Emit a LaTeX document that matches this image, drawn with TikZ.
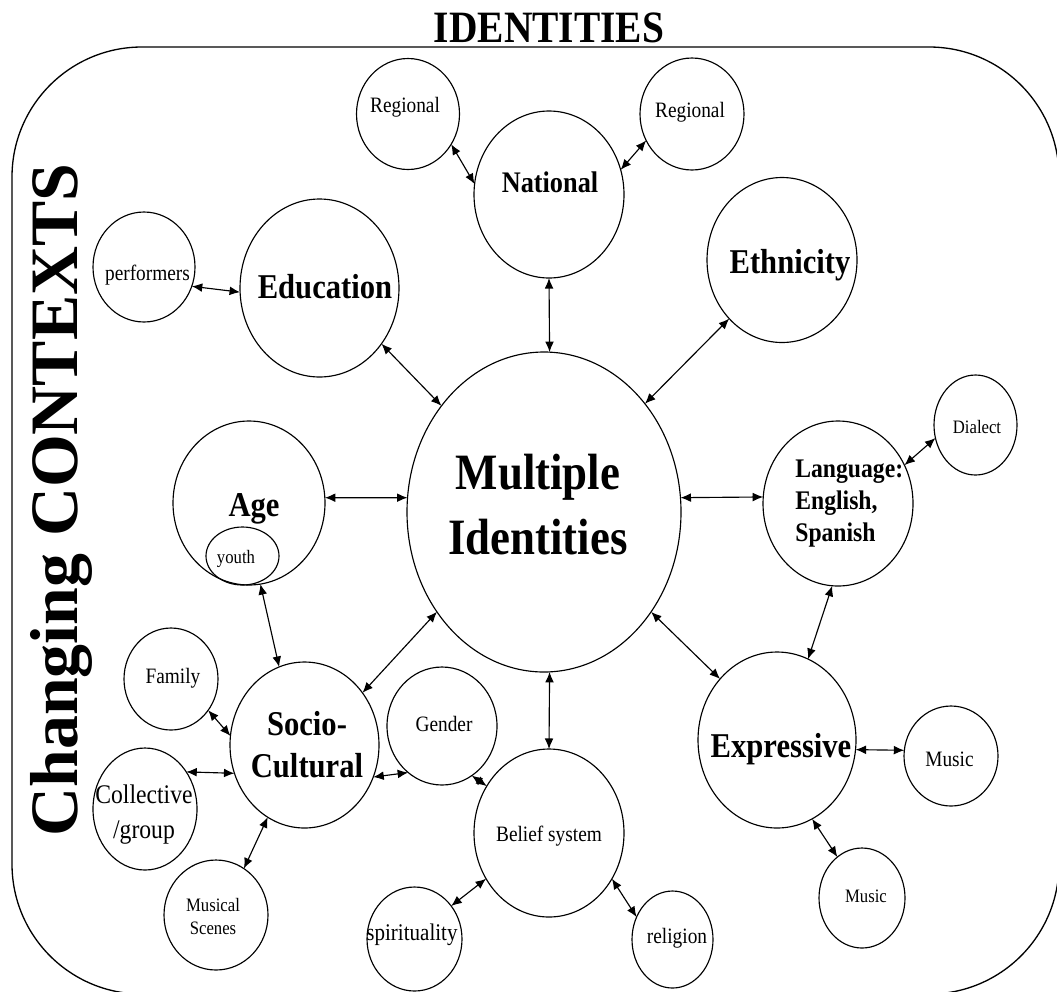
\documentclass[tikz,border=0pt]{standalone}
\usepackage{fontspec}
\setmainfont{Liberation Serif}[FakeStretch=0.88]
\newfontfamily\widefont{Liberation Serif}
\usetikzlibrary{shapes.geometric,arrows.meta}

\begin{document}
\begin{tikzpicture}[x=0.02cm,y=-0.02cm,>={Latex[length=6pt,width=5pt]},
	bub/.style={draw,ellipse,line width=0.65pt,inner sep=0pt,outer sep=0pt},
	sz/.style 2 args={minimum width=#1*0.02cm,minimum height=#2*0.02cm},
	link/.style={<->,line width=0.65pt},
	txt/.style={inner sep=0pt,anchor=base,align=center},
	hugeT/.style={font=\bfseries\fontsize{29}{37}\selectfont},
	bigT/.style={font=\bfseries\fontsize{19.8}{23.8}\selectfont},
	natT/.style={font=\bfseries\fontsize{17}{20}\selectfont},
	langT/.style={font=\bfseries\fontsize{15.3}{18.4}\selectfont},
	collT/.style={font=\fontsize{15.3}{19.8}\selectfont},
	midT/.style={font=\fontsize{12.5}{15}\selectfont},
	smallT/.style={font=\fontsize{10.8}{12.6}\selectfont}]
	\useasboundingbox (0,0) rectangle (1057,991);
	\clip (0,0) rectangle (1057,991);

	% frame and headings
	\draw[line width=0.75pt,rounded corners=2.6cm] (12,47) rectangle (1059,994);
	\node[txt,font=\bfseries\fontsize{25.5}{30}\selectfont] (title) at (549,42) {IDENTITIES};
	\node[txt,rotate=90,font=\widefont\bfseries\fontsize{38.6}{44}\selectfont] (contexts) at (77,500) {Changing CONTEXTS};

	% bubbles
	\node[bub,sz={274}{320}] (multi) at (544,512) {};
	\node[bub,sz={150}{167}] (national) at (549,194.5) {};
	\node[bub,sz={103}{111}] (regionalA) at (408,114) {};
	\node[bub,sz={104}{112}] (regionalB) at (692,114) {};
	\node[bub,sz={159}{178}] (education) at (319.5,288) {};
	\node[bub,sz={102}{110}] (performers) at (144,267) {};
	\node[bub,sz={150}{165}] (ethnicity) at (782,260) {};
	\node[bub,sz={152}{164}] (age) at (249,503) {};
	\node[bub,sz={73}{58}] (youth) at (242.5,556) {};
	\node[bub,sz={149}{166}] (socio) at (304.5,745) {};
	\node[bub,sz={94}{102}] (family) at (171,679) {};
	\node[bub,sz={104}{122}] (collective) at (145,809) {};
	\node[bub,sz={104}{110}] (scenes) at (216,915) {};
	\node[bub,sz={110}{118}] (gender) at (442,726) {};
	\node[bub,sz={150}{168}] (belief) at (549,833) {};
	\node[bub,sz={95}{104}] (spirituality) at (414.5,939) {};
	\node[bub,sz={81}{97}] (religion) at (672.5,939.5) {};
	\node[bub,sz={150}{165}] (language) at (838,503.5) {};
	\node[bub,sz={83}{100}] (dialect) at (975.5,425) {};
	\node[bub,sz={158}{176}] (expressive) at (777,740) {};
	\node[bub,sz={94}{100}] (musicA) at (951,756) {};
	\node[bub,sz={86}{100}] (musicB) at (862,898) {};

	% texts
	\node[txt,hugeT,anchor=center] (multiT) at (538,505) {Multiple\\Identities};
	\node[txt,natT] (nationalT) at (550,192) {National};
	\node[txt,midT] (regionalAT) at (405,112) {Regional};
	\node[txt,midT] (regionalBT) at (690,117) {Regional};
	\node[txt,bigT] (educationT) at (325,298) {Education};
	\node[txt,midT] (performersT) at (147.5,280) {performers};
	\node[txt,bigT] (ethnicityT) at (790,273) {Ethnicity};
	\node[txt,bigT] (ageT) at (254,516) {Age};
	\node[txt,smallT] (youthT) at (236,563) {youth};
	\node[txt,bigT,anchor=center] (socioT) at (307,745) {Socio-\\Cultural};
	\node[txt,midT] (familyT) at (173,683) {Family};
	\node[txt,collT,anchor=center] (collectiveT) at (144,814.5) {Collective\\/group};
	\node[txt,smallT,anchor=center] (scenesT) at (213,916.5) {Musical\\Scenes};
	\node[txt,midT] (genderT) at (444,731) {Gender};
	\node[txt,midT] (beliefT) at (549,841) {Belief system};
	\node[txt,font=\fontsize{13.6}{16}\selectfont] (spiritualityT) at (412,940) {spirituality};
	\node[txt,midT] (religionT) at (677,943) {religion};
	\node[txt,langT,anchor=west,align=left] (languageT) at (795,503.5) {Language:\\English,\\Spanish};
	\node[txt,smallT] (dialectT) at (977,433) {Dialect};
	\node[txt,bigT] (expressiveT) at (781,757) {Expressive};
	\node[txt,midT] (musicAT) at (949.5,766) {Music};
	\node[txt,smallT] (musicBT) at (866,902) {Music};

	% connectors
	\path[link] (regionalA.-35) edge (national.172);
	\path[link] (regionalB.210) edge (national.19);
	\path[link] (national.-90) edge (multi.88);
	\path[link] (education.-42) edge (multi.134);
	\path[link] (performers.-22) edge (education.183);
	\path[link] (ethnicity.-132) edge (multi.47);
	\path[link] (age.4) edge (multi.174);
	\path[link] (multi.6) edge (language.175);
	\path[link] (language.30) edge (dialect.-162);
	\path[link] (language.-94) edge (expressive.69);
	\path[link] (multi.-43) edge (expressive.133);
	\path[link] (expressive.-7) edge (musicA.173);
	\path[link] (expressive.-66) edge (musicB.121);
	\path[link] (multi.-88) edge (belief.90);
	\path[link] (multi.-137) edge (socio.42);
	\path[link] (age.-82) edge (socio.108);
	\path[link] (family.-40) edge (socio.173);
	\path[link] (collective.42) edge (socio.202);
	\path[link] (scenes.59) edge (socio.-117);
	\path[link] (socio.-25) edge (gender.-126);
	\path[link] (gender.-59) edge (belief.143);
	\path[link] (spirituality.42) edge (belief.-144);
	\path[link] (religion.148) edge (belief.-36);
\end{tikzpicture}
\end{document}
